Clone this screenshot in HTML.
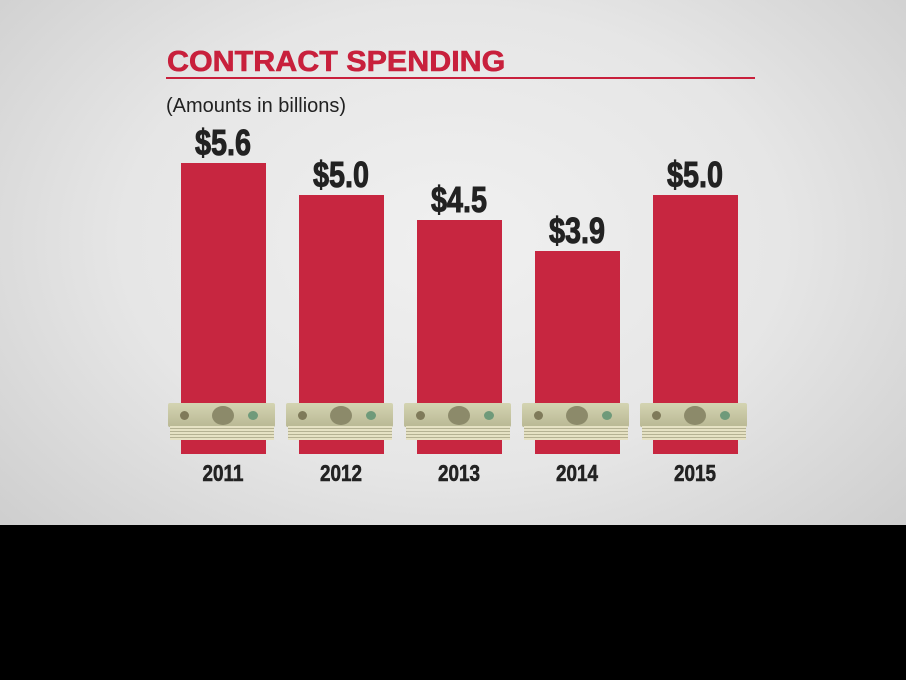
<!DOCTYPE html>
<html><head><style>
body{margin:0;width:906px;height:680px;overflow:hidden;background:#000;position:relative;font-family:"Liberation Sans",sans-serif}
#bg{position:absolute;left:0;top:0;width:906px;height:525px;background:radial-gradient(ellipse 600px 420px at 453px 240px,#f0f0f0 0%,#e6e6e6 55%,#cfcfcf 100%)}
.t{position:absolute;left:167px;top:46px;font-size:29px;font-weight:bold;color:#c8203c;transform:scaleX(1.05);transform-origin:left top;-webkit-text-stroke:0.6px #c8203c}
.ln{position:absolute;left:166px;top:77px;width:589px;height:2px;background:#c8203c}
.sub{position:absolute;left:166px;top:95px;font-size:20px;color:#222}
.bar{position:absolute;width:85px;background:#c72640;bottom:226px}
.v{position:absolute;width:120px;text-align:center;font-weight:bold;font-size:36px;color:#222;transform:scaleX(0.8);-webkit-text-stroke:1px #222}
.y{position:absolute;width:120px;text-align:center;top:460px;font-weight:bold;font-size:23px;color:#222;transform:scaleX(0.82);-webkit-text-stroke:0.6px #222}
.m{position:absolute;top:403px;width:107px;height:37px}
.m .a{position:absolute;left:0;top:0;width:107px;height:24px;background:linear-gradient(#d4d4b2,#b9b894);border-radius:2px}
.m .b{position:absolute;left:2px;top:23px;width:104px;height:14px;background:repeating-linear-gradient(#e6e2c4 0 2px,#b5b293 2px 3px)}
.m .c{position:absolute;left:44px;top:3px;width:22px;height:19px;border-radius:50%;background:#8c8a6a}
.m .d{position:absolute;left:12px;top:8px;width:9px;height:9px;border-radius:50%;background:#7f7a5a}
.m .e{position:absolute;left:80px;top:8px;width:10px;height:9px;border-radius:50%;background:#6f9a7a}
</style></head><body>
<div id="bg"></div>
<div class="t">CONTRACT SPENDING</div>
<div class="ln"></div>
<div class="sub">(Amounts in billions)</div>

<div class="bar" style="left:181px;top:163px"></div>
<div class="bar" style="left:299px;top:195px"></div>
<div class="bar" style="left:417px;top:220px"></div>
<div class="bar" style="left:535px;top:251px"></div>
<div class="bar" style="left:653px;top:195px"></div>

<div class="v" style="left:163px;top:122px">$5.6</div>
<div class="v" style="left:281px;top:154px">$5.0</div>
<div class="v" style="left:399px;top:179px">$4.5</div>
<div class="v" style="left:517px;top:210px">$3.9</div>
<div class="v" style="left:635px;top:154px">$5.0</div>

<div class="m" style="left:168px"><div class="a"></div><div class="b"></div><div class="c"></div><div class="d"></div><div class="e"></div></div>
<div class="m" style="left:286px"><div class="a"></div><div class="b"></div><div class="c"></div><div class="d"></div><div class="e"></div></div>
<div class="m" style="left:404px"><div class="a"></div><div class="b"></div><div class="c"></div><div class="d"></div><div class="e"></div></div>
<div class="m" style="left:522px"><div class="a"></div><div class="b"></div><div class="c"></div><div class="d"></div><div class="e"></div></div>
<div class="m" style="left:640px"><div class="a"></div><div class="b"></div><div class="c"></div><div class="d"></div><div class="e"></div></div>

<div class="y" style="left:163px">2011</div>
<div class="y" style="left:281px">2012</div>
<div class="y" style="left:399px">2013</div>
<div class="y" style="left:517px">2014</div>
<div class="y" style="left:635px">2015</div>
</body></html>
